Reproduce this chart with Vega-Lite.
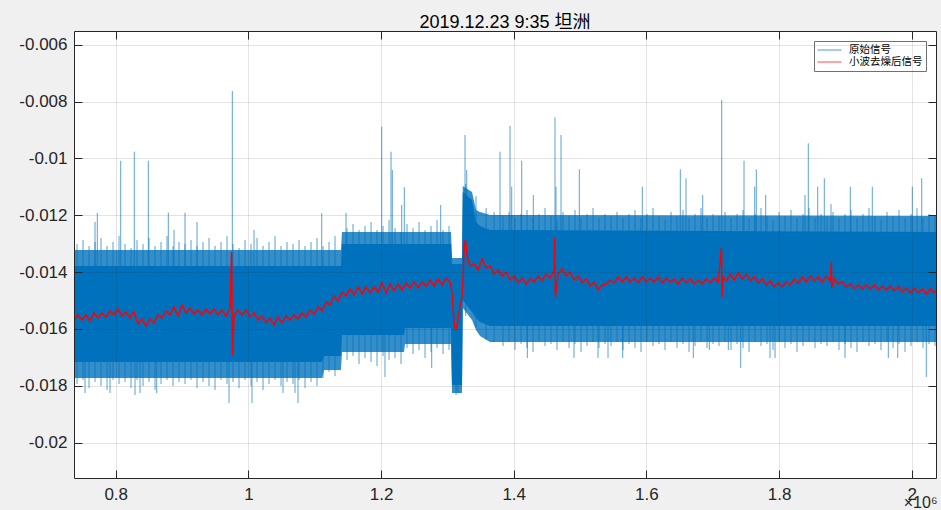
{
"$schema": "https://vega.github.io/schema/vega-lite/v6.json",
"width": 862,
"height": 447,
"autosize": {"type": "none"},
"padding": {"left": 74, "top": 31, "right": 5, "bottom": 32},
"background": "#f0f0f0",
"title": {"text": "2019.12.23 9:35 坦洲", "font": "Liberation Sans, Noto Sans CJK SC", "fontSize": 18, "fontWeight": "normal", "color": "#000000", "baseline": "alphabetic", "offset": -15},
"config": {
  "view": {"fill": "white", "stroke": null},
  "axis": {"domainColor": "#262626", "domainWidth": 1, "tickColor": "#262626", "tickWidth": 1, "tickSize": -8, "labelColor": "#262626", "labelFont": "Liberation Sans", "labelFontSize": 17, "gridColor": "#262626", "gridOpacity": 0.13, "gridWidth": 1, "titleColor": "#262626", "titleFont": "Liberation Sans"}
},
"datasets": {
"band": [
{"x":0.7371,"ct":-0.013784,"cb":-0.017161,"ft":-0.013221,"fb":-0.017724},
{"x":1.1111,"ct":-0.013784,"cb":-0.017161,"ft":-0.013221,"fb":-0.017724},
{"x":1.1141,"ct":-0.013784,"cb":-0.016950,"ft":-0.013221,"fb":-0.017442},
{"x":1.1396,"ct":-0.013784,"cb":-0.016950,"ft":-0.013221,"fb":-0.017442},
{"x":1.1411,"ct":-0.013010,"cb":-0.016211,"ft":-0.012588,"fb":-0.016809},
{"x":1.2346,"ct":-0.013010,"cb":-0.016211,"ft":-0.012588,"fb":-0.016809},
{"x":1.2361,"ct":-0.013010,"cb":-0.015965,"ft":-0.012588,"fb":-0.016528},
{"x":1.3055,"ct":-0.013010,"cb":-0.015965,"ft":-0.012588,"fb":-0.016528},
{"x":1.3070,"ct":-0.013714,"cb":-0.017970,"ft":-0.013503,"fb":-0.018251},
{"x":1.3220,"ct":-0.013714,"cb":-0.017970,"ft":-0.013503,"fb":-0.018251},
{"x":1.3232,"ct":-0.011181,"cb":-0.014980,"ft":-0.010970,"fb":-0.015262},
{"x":1.33712,"ct":-0.011463,"cb":-0.015402,"ft":-0.011181,"fb":-0.015684},
{"x":1.34315,"ct":-0.012236,"cb":-0.015614,"ft":-0.011814,"fb":-0.016035},
{"x":1.34918,"ct":-0.012377,"cb":-0.015754,"ft":-0.011885,"fb":-0.016246},
{"x":1.36426,"ct":-0.012518,"cb":-0.015894,"ft":-0.011990,"fb":-0.016457},
{"x":2.0366,"ct":-0.012588,"cb":-0.015894,"ft":-0.012025,"fb":-0.016457}
],
"spikes": [
{"x":0.74166,"t":-0.013010,"b":-0.017935},
{"x":0.75071,"t":-0.012870,"b":-0.017794},
{"x":0.75975,"t":-0.013081,"b":-0.018075},
{"x":0.76880,"t":-0.012940,"b":-0.017864},
{"x":0.77784,"t":-0.012799,"b":-0.018005},
{"x":0.78689,"t":-0.013081,"b":-0.018146},
{"x":0.79593,"t":-0.012940,"b":-0.017794},
{"x":0.80498,"t":-0.012729,"b":-0.017935},
{"x":0.81402,"t":-0.013010,"b":-0.017864},
{"x":0.82307,"t":-0.013151,"b":-0.018075},
{"x":0.83211,"t":-0.012870,"b":-0.017794},
{"x":0.84116,"t":-0.013010,"b":-0.018005},
{"x":0.85020,"t":-0.012799,"b":-0.017864},
{"x":0.85925,"t":-0.013081,"b":-0.018146},
{"x":0.86829,"t":-0.012940,"b":-0.017935},
{"x":0.87734,"t":-0.012729,"b":-0.017794},
{"x":0.88638,"t":-0.013081,"b":-0.018005},
{"x":0.89543,"t":-0.012940,"b":-0.017864},
{"x":0.90447,"t":-0.013010,"b":-0.017935},
{"x":0.91352,"t":-0.012870,"b":-0.017794},
{"x":0.92256,"t":-0.013081,"b":-0.018075},
{"x":0.93161,"t":-0.012940,"b":-0.017864},
{"x":0.94065,"t":-0.012799,"b":-0.018005},
{"x":0.94970,"t":-0.013081,"b":-0.018146},
{"x":0.95874,"t":-0.012940,"b":-0.017794},
{"x":0.96779,"t":-0.012729,"b":-0.017935},
{"x":0.97683,"t":-0.013010,"b":-0.017864},
{"x":0.98588,"t":-0.013151,"b":-0.018075},
{"x":0.99492,"t":-0.012870,"b":-0.017794},
{"x":1.00397,"t":-0.013010,"b":-0.018005},
{"x":1.01301,"t":-0.012799,"b":-0.017864},
{"x":1.02206,"t":-0.013081,"b":-0.018146},
{"x":1.03110,"t":-0.012940,"b":-0.017935},
{"x":1.04015,"t":-0.012729,"b":-0.017794},
{"x":1.04919,"t":-0.013081,"b":-0.018005},
{"x":1.05824,"t":-0.012940,"b":-0.017864},
{"x":1.06728,"t":-0.013010,"b":-0.017935},
{"x":1.07633,"t":-0.012870,"b":-0.017794},
{"x":1.08537,"t":-0.013081,"b":-0.018075},
{"x":1.09442,"t":-0.012940,"b":-0.017864},
{"x":1.10346,"t":-0.012799,"b":-0.018005},
{"x":1.11251,"t":-0.013081,"b":-0.017724},
{"x":1.12155,"t":-0.012940,"b":-0.017513},
{"x":1.13060,"t":-0.012729,"b":-0.017653},
{"x":1.14869,"t":-0.012448,"b":-0.017091},
{"x":1.15774,"t":-0.012307,"b":-0.016950},
{"x":1.16678,"t":-0.012518,"b":-0.017231},
{"x":1.17583,"t":-0.012377,"b":-0.017020},
{"x":1.18487,"t":-0.012236,"b":-0.017161},
{"x":1.19392,"t":-0.012518,"b":-0.017302},
{"x":1.20296,"t":-0.012377,"b":-0.016950},
{"x":1.21201,"t":-0.012166,"b":-0.017091},
{"x":1.22105,"t":-0.012448,"b":-0.017020},
{"x":1.23010,"t":-0.012588,"b":-0.017231},
{"x":1.23914,"t":-0.012307,"b":-0.016669},
{"x":1.24819,"t":-0.012448,"b":-0.016880},
{"x":1.25723,"t":-0.012236,"b":-0.016739},
{"x":1.26628,"t":-0.012518,"b":-0.017020},
{"x":1.27532,"t":-0.012377,"b":-0.016809},
{"x":1.28437,"t":-0.012166,"b":-0.016669},
{"x":1.29341,"t":-0.012518,"b":-0.016880},
{"x":1.30246,"t":-0.012377,"b":-0.016739},
{"x":1.32762,"t":-0.010900,"b":-0.015543},
{"x":1.34315,"t":-0.011322,"b":-0.015965},
{"x":1.35838,"t":-0.011744,"b":-0.016387},
{"x":1.37044,"t":-0.011885,"b":-0.016457},
{"x":1.38386,"t":-0.012025,"b":-0.016598},
{"x":1.39291,"t":-0.011885,"b":-0.016457},
{"x":1.40195,"t":-0.012096,"b":-0.016739},
{"x":1.41100,"t":-0.011955,"b":-0.016528},
{"x":1.42004,"t":-0.011814,"b":-0.016669},
{"x":1.42909,"t":-0.012096,"b":-0.016809},
{"x":1.43813,"t":-0.011955,"b":-0.016457},
{"x":1.44718,"t":-0.011744,"b":-0.016598},
{"x":1.45622,"t":-0.012025,"b":-0.016528},
{"x":1.46527,"t":-0.012166,"b":-0.016739},
{"x":1.47431,"t":-0.011885,"b":-0.016457},
{"x":1.48336,"t":-0.012025,"b":-0.016669},
{"x":1.49240,"t":-0.011814,"b":-0.016528},
{"x":1.50145,"t":-0.012096,"b":-0.016809},
{"x":1.51049,"t":-0.011955,"b":-0.016598},
{"x":1.51954,"t":-0.011744,"b":-0.016457},
{"x":1.52858,"t":-0.012096,"b":-0.016669},
{"x":1.53763,"t":-0.011955,"b":-0.016528},
{"x":1.54667,"t":-0.012025,"b":-0.016598},
{"x":1.55572,"t":-0.011885,"b":-0.016457},
{"x":1.56476,"t":-0.012096,"b":-0.016739},
{"x":1.57381,"t":-0.011955,"b":-0.016528},
{"x":1.58285,"t":-0.011814,"b":-0.016669},
{"x":1.59190,"t":-0.012096,"b":-0.016809},
{"x":1.60094,"t":-0.011955,"b":-0.016457},
{"x":1.60999,"t":-0.011744,"b":-0.016598},
{"x":1.61903,"t":-0.012025,"b":-0.016528},
{"x":1.62808,"t":-0.012166,"b":-0.016739},
{"x":1.63712,"t":-0.011885,"b":-0.016457},
{"x":1.64617,"t":-0.012025,"b":-0.016669},
{"x":1.65521,"t":-0.011814,"b":-0.016528},
{"x":1.66426,"t":-0.012096,"b":-0.016809},
{"x":1.67330,"t":-0.011955,"b":-0.016598},
{"x":1.68235,"t":-0.011744,"b":-0.016457},
{"x":1.69139,"t":-0.012096,"b":-0.016669},
{"x":1.70044,"t":-0.011955,"b":-0.016528},
{"x":1.70948,"t":-0.012025,"b":-0.016598},
{"x":1.71853,"t":-0.011885,"b":-0.016457},
{"x":1.72757,"t":-0.012096,"b":-0.016739},
{"x":1.73662,"t":-0.011955,"b":-0.016528},
{"x":1.74566,"t":-0.011814,"b":-0.016669},
{"x":1.75471,"t":-0.012096,"b":-0.016809},
{"x":1.76375,"t":-0.011955,"b":-0.016457},
{"x":1.77280,"t":-0.011744,"b":-0.016598},
{"x":1.78184,"t":-0.012025,"b":-0.016528},
{"x":1.79089,"t":-0.012166,"b":-0.016739},
{"x":1.79993,"t":-0.011885,"b":-0.016457},
{"x":1.80898,"t":-0.012025,"b":-0.016669},
{"x":1.81802,"t":-0.011814,"b":-0.016528},
{"x":1.82707,"t":-0.012096,"b":-0.016809},
{"x":1.83611,"t":-0.011955,"b":-0.016598},
{"x":1.84516,"t":-0.011744,"b":-0.016457},
{"x":1.85420,"t":-0.012096,"b":-0.016669},
{"x":1.86325,"t":-0.011955,"b":-0.016528},
{"x":1.87229,"t":-0.012025,"b":-0.016598},
{"x":1.88134,"t":-0.011885,"b":-0.016457},
{"x":1.89038,"t":-0.012096,"b":-0.016739},
{"x":1.89943,"t":-0.011955,"b":-0.016528},
{"x":1.90847,"t":-0.011814,"b":-0.016669},
{"x":1.91752,"t":-0.012096,"b":-0.016809},
{"x":1.92656,"t":-0.011955,"b":-0.016457},
{"x":1.93561,"t":-0.011744,"b":-0.016598},
{"x":1.94465,"t":-0.012025,"b":-0.016528},
{"x":1.95370,"t":-0.012166,"b":-0.016739},
{"x":1.96274,"t":-0.011885,"b":-0.016457},
{"x":1.97179,"t":-0.012025,"b":-0.016669},
{"x":1.98083,"t":-0.011814,"b":-0.016528},
{"x":1.98988,"t":-0.012096,"b":-0.016809},
{"x":1.99892,"t":-0.011955,"b":-0.016598},
{"x":2.00797,"t":-0.011744,"b":-0.016457},
{"x":2.01701,"t":-0.012096,"b":-0.016669},
{"x":2.02606,"t":-0.011955,"b":-0.016528},
{"x":2.03510,"t":-0.012025,"b":-0.016598},
{"x":0.77226,"t":-0.011920,"b":-0.0145},
{"x":0.76879,"t":-0.012236,"b":-0.0145},
{"x":0.80754,"t":-0.010080,"b":-0.0145},
{"x":0.82804,"t":-0.009764,"b":-0.0145},
{"x":0.84914,"t":-0.010080,"b":-0.0145},
{"x":0.87929,"t":-0.011909,"b":-0.0145},
{"x":0.88789,"t":-0.012518,"b":-0.0145},
{"x":0.90447,"t":-0.011909,"b":-0.0145},
{"x":0.92256,"t":-0.012236,"b":-0.0145},
{"x":0.97577,"t":-0.007629,"b":-0.0145},
{"x":1.00849,"t":-0.012518,"b":-0.0145},
{"x":1.11055,"t":-0.011920,"b":-0.0145},
{"x":1.14718,"t":-0.011920,"b":-0.0145},
{"x":1.20100,"t":-0.008884,"b":-0.0145},
{"x":1.21502,"t":-0.009764,"b":-0.0145},
{"x":1.21698,"t":-0.010407,"b":-0.0145},
{"x":1.23115,"t":-0.011638,"b":-0.0145},
{"x":1.23506,"t":-0.011016,"b":-0.0145},
{"x":1.28994,"t":-0.011638,"b":-0.0145},
{"x":1.32657,"t":-0.009176,"b":-0.0145},
{"x":1.32913,"t":-0.010407,"b":-0.0145},
{"x":1.37933,"t":-0.009764,"b":-0.0145},
{"x":1.39441,"t":-0.008860,"b":-0.0145},
{"x":1.39697,"t":-0.010995,"b":-0.0145},
{"x":1.41204,"t":-0.010080,"b":-0.0145},
{"x":1.42953,"t":-0.011287,"b":-0.0145},
{"x":1.46224,"t":-0.008554,"b":-0.0145},
{"x":1.46375,"t":-0.010995,"b":-0.0145},
{"x":1.47129,"t":-0.009176,"b":-0.0145},
{"x":1.49888,"t":-0.010383,"b":-0.0145},
{"x":1.59385,"t":-0.010995,"b":-0.0145},
{"x":1.65113,"t":-0.010383,"b":-0.0145},
{"x":1.65973,"t":-0.010699,"b":-0.0145},
{"x":1.68490,"t":-0.011287,"b":-0.0145},
{"x":1.71355,"t":-0.007945,"b":-0.0145},
{"x":1.74716,"t":-0.010080,"b":-0.0145},
{"x":1.76329,"t":-0.010995,"b":-0.0145},
{"x":1.76570,"t":-0.010383,"b":-0.0145},
{"x":1.77988,"t":-0.011287,"b":-0.0145},
{"x":1.83912,"t":-0.011287,"b":-0.0145},
{"x":1.84409,"t":-0.009468,"b":-0.0145},
{"x":1.85827,"t":-0.010995,"b":-0.0145},
{"x":1.86822,"t":-0.010699,"b":-0.0145},
{"x":1.87831,"t":-0.011603,"b":-0.0145},
{"x":1.90741,"t":-0.010995,"b":-0.0145},
{"x":1.94058,"t":-0.010995,"b":-0.0145},
{"x":2.00087,"t":-0.010995,"b":-0.0145},
{"x":2.01505,"t":-0.010699,"b":-0.0145},
{"x":0.75372,"t":-0.0145,"b":-0.018251},
{"x":0.79141,"t":-0.0145,"b":-0.018251},
{"x":0.82909,"t":-0.0145,"b":-0.018322},
{"x":0.83663,"t":-0.0145,"b":-0.018251},
{"x":0.86181,"t":-0.0145,"b":-0.018251},
{"x":0.97080,"t":-0.0145,"b":-0.018603},
{"x":1.00547,"t":-0.0145,"b":-0.018603},
{"x":1.05220,"t":-0.0145,"b":-0.018251},
{"x":1.07029,"t":-0.0145,"b":-0.018251},
{"x":1.07481,"t":-0.0145,"b":-0.018603},
{"x":1.20594,"t":-0.0145,"b":-0.017688},
{"x":1.27637,"t":-0.0145,"b":-0.017372},
{"x":1.31300,"t":-0.0145,"b":-0.018322},
{"x":1.31601,"t":-0.0145,"b":-0.018251},
{"x":1.42049,"t":-0.0145,"b":-0.017020},
{"x":1.49089,"t":-0.0145,"b":-0.017020},
{"x":1.52707,"t":-0.0145,"b":-0.017020},
{"x":1.54215,"t":-0.0145,"b":-0.017020},
{"x":1.56431,"t":-0.0145,"b":-0.017020},
{"x":1.67074,"t":-0.0145,"b":-0.017020},
{"x":1.69486,"t":-0.0145,"b":-0.016739},
{"x":1.72351,"t":-0.0145,"b":-0.016739},
{"x":1.74220,"t":-0.0145,"b":-0.017372},
{"x":1.78637,"t":-0.0145,"b":-0.017020},
{"x":1.79391,"t":-0.0145,"b":-0.017020},
{"x":1.89944,"t":-0.0145,"b":-0.017020},
{"x":1.96472,"t":-0.0145,"b":-0.017020},
{"x":1.97889,"t":-0.0145,"b":-0.017020},
{"x":2.02200,"t":-0.0145,"b":-0.017688}
],
"red": [
{"x":0.7371,"y":-0.015684},{"x":0.7431,"y":-0.015508},{"x":0.7492,"y":-0.015684},{"x":0.7552,"y":-0.015508},
{"x":0.7612,"y":-0.015719},{"x":0.7673,"y":-0.015438},{"x":0.7733,"y":-0.015614},{"x":0.7793,"y":-0.015438},
{"x":0.7854,"y":-0.015578},{"x":0.7914,"y":-0.015367},{"x":0.7974,"y":-0.015508},{"x":0.8035,"y":-0.015297},
{"x":0.8095,"y":-0.015543},{"x":0.8155,"y":-0.015402},{"x":0.8216,"y":-0.015614},{"x":0.8276,"y":-0.015402},
{"x":0.8336,"y":-0.015825},{"x":0.8396,"y":-0.015649},{"x":0.8457,"y":-0.015895},{"x":0.8517,"y":-0.015649},
{"x":0.8577,"y":-0.015790},{"x":0.8638,"y":-0.015508},{"x":0.8698,"y":-0.015614},{"x":0.8758,"y":-0.015367},
{"x":0.8819,"y":-0.015508},{"x":0.8879,"y":-0.015226},{"x":0.8939,"y":-0.015543},{"x":0.9000,"y":-0.015156},
{"x":0.9060,"y":-0.015438},{"x":0.9120,"y":-0.015262},{"x":0.9181,"y":-0.015473},{"x":0.9241,"y":-0.015332},
{"x":0.9301,"y":-0.015508},{"x":0.9362,"y":-0.015297},{"x":0.9422,"y":-0.015473},{"x":0.9482,"y":-0.015297},
{"x":0.9543,"y":-0.015508},{"x":0.9603,"y":-0.015332},{"x":0.9663,"y":-0.015543},{"x":0.9724,"y":-0.015262},
{"x":0.97457,"y":-0.013292},{"x":0.97608,"y":-0.016914},
{"x":0.9784,"y":-0.015508},{"x":0.9844,"y":-0.015332},{"x":0.9905,"y":-0.015508},{"x":0.9965,"y":-0.015332},
{"x":1.0025,"y":-0.015578},{"x":1.0086,"y":-0.015438},{"x":1.0146,"y":-0.015684},{"x":1.0206,"y":-0.015543},
{"x":1.0267,"y":-0.015790},{"x":1.0327,"y":-0.015614},{"x":1.0387,"y":-0.015860},{"x":1.0448,"y":-0.015578},
{"x":1.0508,"y":-0.015790},{"x":1.0568,"y":-0.015543},{"x":1.0629,"y":-0.015684},{"x":1.0689,"y":-0.015508},
{"x":1.0749,"y":-0.015649},{"x":1.0810,"y":-0.015438},{"x":1.0870,"y":-0.015578},{"x":1.0930,"y":-0.015332},
{"x":1.0991,"y":-0.015473},{"x":1.1051,"y":-0.015226},{"x":1.1111,"y":-0.015367},{"x":1.1172,"y":-0.015050},
{"x":1.1232,"y":-0.015156},{"x":1.1292,"y":-0.014839},{"x":1.1353,"y":-0.015015},{"x":1.1413,"y":-0.014698},
{"x":1.1473,"y":-0.014839},{"x":1.1534,"y":-0.014593},{"x":1.1594,"y":-0.014804},{"x":1.1654,"y":-0.014522},
{"x":1.1715,"y":-0.014769},{"x":1.1775,"y":-0.014522},{"x":1.1835,"y":-0.014734},{"x":1.1896,"y":-0.014522},
{"x":1.1956,"y":-0.014698},{"x":1.2016,"y":-0.014382},{"x":1.2077,"y":-0.014734},{"x":1.2137,"y":-0.014417},
{"x":1.2197,"y":-0.014663},{"x":1.2258,"y":-0.014417},{"x":1.2318,"y":-0.014628},{"x":1.2378,"y":-0.014382},
{"x":1.2439,"y":-0.014558},{"x":1.2499,"y":-0.014346},{"x":1.2559,"y":-0.014558},{"x":1.2620,"y":-0.014346},
{"x":1.2680,"y":-0.014487},{"x":1.2740,"y":-0.014276},{"x":1.2801,"y":-0.014487},{"x":1.2861,"y":-0.014241},
{"x":1.2921,"y":-0.014452},{"x":1.2982,"y":-0.014206},{"x":1.3042,"y":-0.014346},{"x":1.3057,"y":-0.014522},
{"x":1.3072,"y":-0.014804},{"x":1.3087,"y":-0.015332},{"x":1.3102,"y":-0.015754},{"x":1.3117,"y":-0.015966},
{"x":1.3132,"y":-0.016001},{"x":1.3147,"y":-0.015860},{"x":1.3162,"y":-0.015614},{"x":1.3177,"y":-0.015402},
{"x":1.3192,"y":-0.015191},{"x":1.3207,"y":-0.015050},{"x":1.3222,"y":-0.014839},{"x":1.3238,"y":-0.014100},
{"x":1.3253,"y":-0.013150},{"x":1.3268,"y":-0.012868},{"x":1.3283,"y":-0.013115},{"x":1.3298,"y":-0.013396},
{"x":1.3313,"y":-0.013572},{"x":1.3343,"y":-0.013783},{"x":1.3403,"y":-0.013713},{"x":1.3464,"y":-0.013924},
{"x":1.3524,"y":-0.013537},{"x":1.3584,"y":-0.013854},{"x":1.3645,"y":-0.013783},{"x":1.3705,"y":-0.014065},
{"x":1.3765,"y":-0.013924},{"x":1.3826,"y":-0.014135},{"x":1.3886,"y":-0.013994},{"x":1.3946,"y":-0.014276},
{"x":1.4007,"y":-0.014135},{"x":1.4067,"y":-0.014382},{"x":1.4127,"y":-0.014206},{"x":1.4188,"y":-0.014417},
{"x":1.4248,"y":-0.014241},{"x":1.4308,"y":-0.014346},{"x":1.4369,"y":-0.014135},{"x":1.4429,"y":-0.014311},
{"x":1.4489,"y":-0.014065},{"x":1.4550,"y":-0.014206},{"x":1.4610,"y":-0.013924},{"x":1.46194,"y":-0.012798},
{"x":1.46285,"y":-0.014874},{"x":1.4670,"y":-0.014065},{"x":1.4731,"y":-0.013889},{"x":1.4791,"y":-0.014135},
{"x":1.4851,"y":-0.013994},{"x":1.4912,"y":-0.014276},{"x":1.4972,"y":-0.014135},{"x":1.5032,"y":-0.014382},
{"x":1.5093,"y":-0.014241},{"x":1.5153,"y":-0.014487},{"x":1.5213,"y":-0.014346},{"x":1.5274,"y":-0.014628},
{"x":1.5334,"y":-0.014452},{"x":1.5394,"y":-0.014417},{"x":1.5455,"y":-0.014276},{"x":1.5515,"y":-0.014382},
{"x":1.5575,"y":-0.014170},{"x":1.5636,"y":-0.014346},{"x":1.5696,"y":-0.014170},{"x":1.5756,"y":-0.014346},
{"x":1.5817,"y":-0.014206},{"x":1.5877,"y":-0.014382},{"x":1.5937,"y":-0.014170},{"x":1.5998,"y":-0.014346},
{"x":1.6058,"y":-0.014206},{"x":1.6118,"y":-0.014346},{"x":1.6179,"y":-0.014170},{"x":1.6239,"y":-0.014382},
{"x":1.6299,"y":-0.014206},{"x":1.6360,"y":-0.014346},{"x":1.6420,"y":-0.014241},{"x":1.6480,"y":-0.014417},
{"x":1.6541,"y":-0.014206},{"x":1.6601,"y":-0.014382},{"x":1.6661,"y":-0.014241},{"x":1.6722,"y":-0.014417},
{"x":1.6782,"y":-0.014276},{"x":1.6842,"y":-0.014417},{"x":1.6903,"y":-0.014241},{"x":1.6963,"y":-0.014382},
{"x":1.7023,"y":-0.014206},{"x":1.7084,"y":-0.014346},{"x":1.71309,"y":-0.013150},{"x":1.71399,"y":-0.014874},
{"x":1.71550,"y":-0.014170},{"x":1.7204,"y":-0.014311},{"x":1.7265,"y":-0.014065},{"x":1.7325,"y":-0.014276},
{"x":1.7385,"y":-0.014030},{"x":1.7446,"y":-0.014241},{"x":1.7506,"y":-0.014065},{"x":1.7566,"y":-0.014311},
{"x":1.7627,"y":-0.014170},{"x":1.7687,"y":-0.014382},{"x":1.7747,"y":-0.014241},{"x":1.7808,"y":-0.014452},
{"x":1.7868,"y":-0.014311},{"x":1.7928,"y":-0.014522},{"x":1.7989,"y":-0.014382},{"x":1.8049,"y":-0.014522},
{"x":1.8109,"y":-0.014346},{"x":1.8170,"y":-0.014452},{"x":1.8230,"y":-0.014241},{"x":1.8290,"y":-0.014382},
{"x":1.8351,"y":-0.014170},{"x":1.8411,"y":-0.014346},{"x":1.8471,"y":-0.014135},{"x":1.8532,"y":-0.014311},
{"x":1.8592,"y":-0.014170},{"x":1.8652,"y":-0.014346},{"x":1.8713,"y":-0.014135},{"x":1.8773,"y":-0.014311},
{"x":1.87877,"y":-0.013643},{"x":1.87952,"y":-0.014558},{"x":1.8833,"y":-0.014241},{"x":1.8894,"y":-0.014417},
{"x":1.8954,"y":-0.014346},{"x":1.9014,"y":-0.014522},{"x":1.9075,"y":-0.014417},{"x":1.9135,"y":-0.014593},
{"x":1.9195,"y":-0.014452},{"x":1.9256,"y":-0.014593},{"x":1.9316,"y":-0.014452},{"x":1.9376,"y":-0.014593},
{"x":1.9437,"y":-0.014452},{"x":1.9497,"y":-0.014628},{"x":1.9557,"y":-0.014487},{"x":1.9618,"y":-0.014628},
{"x":1.9678,"y":-0.014487},{"x":1.9738,"y":-0.014663},{"x":1.9799,"y":-0.014522},{"x":1.9859,"y":-0.014698},
{"x":1.9919,"y":-0.014558},{"x":1.9980,"y":-0.014734},{"x":2.0040,"y":-0.014558},{"x":2.0100,"y":-0.014734},
{"x":2.0161,"y":-0.014593},{"x":2.0221,"y":-0.014769},{"x":2.0281,"y":-0.014593},{"x":2.0342,"y":-0.014734},
{"x":2.0366,"y":-0.014628}
]
},
"layer": [
{
  "data": {"name": "band"},
  "mark": {"type": "area", "color": "#0072BD", "opacity": 0.8, "clip": true},
  "encoding": {
    "x": {"field": "x", "type": "quantitative", "scale": {"domain": [0.7371, 2.0366], "nice": false, "zero": false},
      "axis": {"orient": "bottom", "values": [0.8, 1, 1.2, 1.4, 1.6, 1.8, 2], "format": "~g", "grid": true, "labelPadding": 16, "zindex": 1,
        "title": "×10⁶", "titleX": 863, "titleY": 29, "titleAlign": "right", "titleAnchor": "end", "titleBaseline": "alphabetic", "titleFontSize": 16, "titleFontWeight": "normal"}},
    "y": {"field": "ft", "type": "quantitative", "scale": {"domain": [-0.021242, -0.005518], "nice": false, "zero": false},
      "axis": {"orient": "left", "values": [-0.02, -0.018, -0.016, -0.014, -0.012, -0.01, -0.008, -0.006], "labelExpr": "toString(datum.value)", "grid": true, "labelPadding": 15, "zindex": 1, "title": null}},
    "y2": {"field": "fb"}
  }
},
{
  "data": {"name": "band"},
  "mark": {"type": "area", "color": "#0072BD", "opacity": 1, "clip": true},
  "encoding": {
    "x": {"field": "x", "type": "quantitative", "scale": {"domain": [0.7371, 2.0366], "nice": false, "zero": false}, "axis": null},
    "y": {"field": "ct", "type": "quantitative", "scale": {"domain": [-0.021242, -0.005518], "nice": false, "zero": false}, "axis": null},
    "y2": {"field": "cb"}
  }
},
{
  "data": {"name": "spikes"},
  "mark": {"type": "rule", "strokeWidth": 1, "opacity": 0.65, "clip": true},
  "encoding": {
    "x": {"field": "x", "type": "quantitative", "scale": {"domain": [0.7371, 2.0366], "nice": false, "zero": false}, "axis": null},
    "y": {"field": "t", "type": "quantitative", "scale": {"domain": [-0.021242, -0.005518], "nice": false, "zero": false}, "axis": null},
    "y2": {"field": "b"},
    "color": {"datum": "原始信号", "type": "nominal", "scale": {"domain": ["原始信号", "小波去燥后信号"], "range": ["#0072BD", "#FF0000"]},
      "legend": {"orient": "top-right", "offset": 10, "title": null, "symbolType": "stroke", "symbolSize": 576, "symbolStrokeWidth": 1, "symbolOpacity": 0.7, "clipHeight": 12, "labelFont": "Noto Sans CJK SC", "labelFontSize": 10.5, "labelColor": "#000000", "labelOffset": 7, "padding": 3, "rowPadding": 0, "fillColor": "white", "strokeColor": "#707070"}}
  }
},
{
  "data": {"name": "red"},
  "mark": {"type": "line", "strokeWidth": 1.5, "clip": true},
  "encoding": {
    "x": {"field": "x", "type": "quantitative", "scale": {"domain": [0.7371, 2.0366], "nice": false, "zero": false}, "axis": null},
    "y": {"field": "y", "type": "quantitative", "scale": {"domain": [-0.021242, -0.005518], "nice": false, "zero": false}, "axis": null},
    "color": {"datum": "小波去燥后信号", "type": "nominal"}
  }
},
{
  "data": {"name": "band"},
  "mark": {"type": "point", "opacity": 0},
  "encoding": {
    "x": {"field": "x", "type": "quantitative", "scale": {"domain": [0.7371, 2.0366], "nice": false, "zero": false},
      "axis": {"orient": "top", "values": [0.8, 1, 1.2, 1.4, 1.6, 1.8, 2], "labels": false, "grid": false, "title": null, "zindex": 1}},
    "y": {"field": "ct", "type": "quantitative", "scale": {"domain": [-0.021242, -0.005518], "nice": false, "zero": false},
      "axis": {"orient": "right", "values": [-0.02, -0.018, -0.016, -0.014, -0.012, -0.01, -0.008, -0.006], "labels": false, "grid": false, "title": null, "zindex": 1}}
  }
}
],
"resolve": {"axis": {"x": "independent", "y": "independent"}}
}
